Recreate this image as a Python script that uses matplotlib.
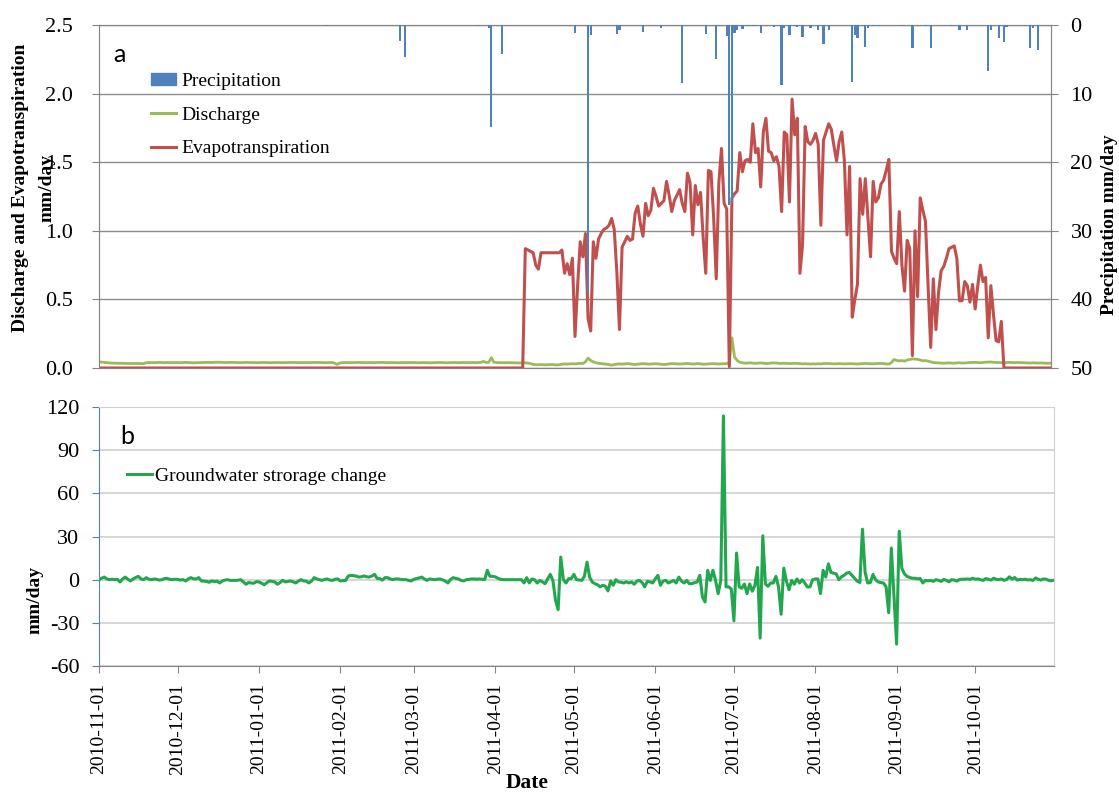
"""Daily water balance terms, Nov 2010 - Oct 2011."""

import matplotlib

matplotlib.use("Agg")

import matplotlib.dates as mdates
import matplotlib.pyplot as plt
import numpy as np
import pandas as pd
from matplotlib.lines import Line2D
from matplotlib.patches import Patch

plt.rcParams["font.family"] = ["Liberation Serif", "DejaVu Serif"]
plt.rcParams["axes.unicode_minus"] = False

BLUE = "#4f81bd"
GREEN_Q = "#9bbb59"
RED = "#c0504d"
GREEN_GW = "#22a64e"
AXIS_GREY = "#868686"

# --- daily discharge (mm/day), one list per month -------------------------
q_nov = [0.045, 0.043, 0.041, 0.039, 0.037, 0.036, 0.035, 0.035, 0.034, 0.034,
         0.034, 0.033, 0.033, 0.033, 0.033, 0.033, 0.032, 0.032, 0.038, 0.040,
         0.040, 0.039, 0.040, 0.041, 0.040, 0.039, 0.040, 0.040, 0.039, 0.040]
q_dec = [0.040, 0.039, 0.040, 0.041, 0.040, 0.039, 0.038, 0.038, 0.039, 0.040,
         0.040, 0.041, 0.041, 0.040, 0.041, 0.042, 0.042, 0.041, 0.040, 0.040,
         0.041, 0.041, 0.040, 0.040, 0.039, 0.040, 0.041, 0.040, 0.040, 0.040,
         0.039]
q_jan = [0.039, 0.040, 0.040, 0.040, 0.039, 0.039, 0.040, 0.040, 0.040, 0.039,
         0.039, 0.040, 0.040, 0.041, 0.040, 0.040, 0.039, 0.040, 0.040, 0.039,
         0.040, 0.040, 0.041, 0.040, 0.040, 0.039, 0.039, 0.040, 0.040, 0.036,
         0.026]
q_feb = [0.036, 0.039, 0.040, 0.040, 0.039, 0.040, 0.040, 0.041, 0.040, 0.040,
         0.039, 0.040, 0.040, 0.039, 0.040, 0.040, 0.041, 0.040, 0.039, 0.040,
         0.040, 0.039, 0.038, 0.039, 0.040, 0.040, 0.039, 0.040]
q_mar = [0.040, 0.039, 0.038, 0.039, 0.040, 0.039, 0.038, 0.038, 0.039, 0.040,
         0.040, 0.040, 0.039, 0.038, 0.039, 0.040, 0.040, 0.039, 0.039, 0.040,
         0.040, 0.039, 0.040, 0.040, 0.039, 0.040, 0.041, 0.048, 0.040, 0.041,
         0.075]
q_apr = [0.042, 0.040, 0.039, 0.039, 0.038, 0.039, 0.039, 0.038, 0.038, 0.037,
         0.037, 0.037, 0.038, 0.036, 0.032, 0.026, 0.024, 0.024, 0.025, 0.024,
         0.023, 0.025, 0.026, 0.024, 0.022, 0.024, 0.027, 0.030, 0.028, 0.030]
q_may = [0.031, 0.030, 0.032, 0.034, 0.033, 0.045, 0.072, 0.055, 0.045, 0.038,
         0.034, 0.032, 0.030, 0.028, 0.025, 0.020, 0.025, 0.028, 0.030, 0.028,
         0.030, 0.032, 0.030, 0.027, 0.025, 0.028, 0.030, 0.032, 0.030, 0.028,
         0.029]
q_jun = [0.030, 0.031, 0.029, 0.027, 0.025, 0.027, 0.030, 0.032, 0.031, 0.030,
         0.029, 0.030, 0.032, 0.033, 0.031, 0.029, 0.030, 0.032, 0.030, 0.028,
         0.028, 0.030, 0.031, 0.032, 0.030, 0.029, 0.030, 0.031, 0.032, 0.040]
q_jul = [0.220, 0.080, 0.055, 0.042, 0.038, 0.035, 0.036, 0.038, 0.035, 0.034,
         0.036, 0.037, 0.035, 0.033, 0.034, 0.036, 0.037, 0.036, 0.034, 0.033,
         0.035, 0.034, 0.032, 0.033, 0.034, 0.033, 0.032, 0.030, 0.031, 0.030,
         0.029]
q_aug = [0.030, 0.029, 0.031, 0.030, 0.032, 0.033, 0.032, 0.031, 0.030, 0.031,
         0.032, 0.031, 0.030, 0.031, 0.032, 0.031, 0.030, 0.029, 0.031, 0.032,
         0.033, 0.032, 0.031, 0.030, 0.032, 0.033, 0.034, 0.032, 0.030, 0.028,
         0.040]
q_sep = [0.062, 0.055, 0.052, 0.054, 0.050, 0.058, 0.062, 0.066, 0.065, 0.063,
         0.058, 0.052, 0.054, 0.050, 0.045, 0.040, 0.038, 0.037, 0.036, 0.035,
         0.036, 0.037, 0.036, 0.035, 0.037, 0.038, 0.036, 0.037, 0.038, 0.040]
q_oct = [0.040, 0.041, 0.040, 0.039, 0.040, 0.042, 0.043, 0.044, 0.042, 0.040,
         0.040, 0.039, 0.040, 0.040, 0.041, 0.040, 0.039, 0.040, 0.040, 0.039,
         0.038, 0.037, 0.036, 0.038, 0.037, 0.036, 0.037, 0.036, 0.035, 0.035,
         0.034]

# --- evapotranspiration (mm/day), growing season only, zero otherwise -----
et_start = "2011-04-13"
et_season = [
    0.87, 0.86, 0.85, 0.84, 0.75, 0.72, 0.84, 0.84,
    0.84, 0.84, 0.84, 0.84, 0.84, 0.84, 0.86, 0.69, 0.76, 0.68,
    0.80, 0.23, 0.60, 0.92, 0.81, 0.98, 0.36, 0.27, 0.92, 0.80,
    0.94, 0.98, 1.01, 1.02, 1.04, 1.09, 1.01, 0.70, 0.28, 0.88,
    0.92, 0.96, 0.93, 0.94, 1.13, 1.18, 1.05, 0.96, 1.20, 1.11,
    1.15, 1.31, 1.25, 1.18, 1.20, 1.22, 1.36, 1.26, 1.14, 1.22,
    1.26, 1.30, 1.20, 1.14, 1.42, 1.35, 0.97, 1.33, 1.19, 1.28,
    0.95, 0.69, 1.44, 1.43, 1.10, 0.65, 1.35, 1.60, 1.20, 1.16,
    0.01, 1.24, 1.27, 1.29, 1.57, 1.43, 1.51, 1.52, 1.50, 1.78,
    1.57, 1.60, 1.32, 1.72, 1.82, 1.58, 1.57, 1.51, 1.54, 1.47,
    1.14, 1.72, 1.70, 1.21, 1.96, 1.70, 1.82, 0.69, 0.90, 1.76,
    1.65, 1.63, 1.66, 1.71, 1.63, 1.04, 1.66, 1.72, 1.78, 1.74,
    1.62, 1.51, 1.65, 1.72, 1.51, 0.97, 1.47, 0.37, 0.50, 0.61,
    1.38, 1.12, 1.38, 1.10, 0.81, 1.36, 1.21, 1.24, 1.34, 1.37,
    1.44, 1.52, 0.85, 0.80, 0.76, 1.14, 0.75, 0.56, 0.93, 0.87,
    0.09, 1.00, 0.52, 1.24, 1.15, 1.07, 0.60, 0.15, 0.65, 0.28,
    0.55, 0.71, 0.74, 0.80, 0.87, 0.88, 0.89, 0.80, 0.49, 0.49,
    0.63, 0.60, 0.48, 0.61, 0.43, 0.60, 0.75, 0.63, 0.66, 0.22,
    0.60, 0.39, 0.20, 0.19, 0.34,
]

# --- rain days (mm/day) ----------------------------------------------------
rain_dates = [
    "2011-01-27", "2011-02-24", "2011-02-26", "2011-03-26", "2011-03-30",
    "2011-03-31", "2011-04-04", "2011-05-02", "2011-05-07", "2011-05-08",
    "2011-05-18", "2011-05-19", "2011-05-28", "2011-06-04", "2011-06-12",
    "2011-06-21", "2011-06-25", "2011-06-26", "2011-06-29", "2011-06-30",
    "2011-07-01", "2011-07-02", "2011-07-03", "2011-07-05", "2011-07-07",
    "2011-07-09", "2011-07-10", "2011-07-12", "2011-07-17", "2011-07-20",
    "2011-07-21", "2011-07-23", "2011-07-25", "2011-07-26", "2011-07-28",
    "2011-07-31", "2011-08-03", "2011-08-05", "2011-08-07", "2011-08-16",
    "2011-08-17", "2011-08-18", "2011-08-21", "2011-08-22", "2011-08-24",
    "2011-08-26", "2011-09-04", "2011-09-08", "2011-09-13", "2011-09-15",
    "2011-09-23", "2011-09-26", "2011-09-29", "2011-10-07", "2011-10-08",
    "2011-10-11", "2011-10-13", "2011-10-14", "2011-10-21", "2011-10-23",
    "2011-10-24", "2011-10-26",
]
rain_mm = [
    0.2, 2.4, 4.7, 0.2, 0.4,
    14.8, 4.3, 1.2, 38.9, 1.5,
    1.3, 0.7, 1.0, 0.5, 8.4,
    1.3, 5.0, 0.2, 1.6, 26.2,
    26.0, 1.2, 0.8, 0.6, 0.2,
    0.2, 0.2, 1.2, 0.3, 8.7,
    0.4, 1.5, 0.2, 0.3, 1.7,
    0.4, 0.7, 2.7, 0.8, 8.3,
    1.5, 1.9, 3.2, 0.5, 0.2,
    0.2, 0.2, 3.4, 0.2, 3.4,
    0.2, 0.8, 0.7, 6.7, 0.8,
    1.9, 2.5, 0.3, 0.2, 3.3,
    0.5, 3.6,
]

# --- groundwater storage change (mm/day), one list per month ---------------
gw_nov = [0.0, 1.0, 1.8, 0.5, 0.0, 0.3, 0.0, 0.2, -1.6, 0.5,
          1.8, 0.3, -0.9, 0.5, 1.5, 2.3, 0.5, 0.0, 1.4, 0.3,
          0.0, 0.5, 0.2, -0.3, 0.0, 0.8, 0.9, 0.2, 0.0, 0.3]
gw_dec = [0.2, -0.3, 0.1, -0.9, 0.5, 1.4, 0.6, 0.5, 1.4, -0.9,
          -1.0, -1.2, -1.8, -0.8, -1.4, -1.0, -2.3, -0.9, -0.3, 0.0,
          -0.5, -0.5, -0.5, -0.4, 0.0, -1.5, -3.2, -2.0, -2.3, -2.5,
          -1.4]
gw_jan = [-1.6, -2.5, -3.5, -2.0, -0.9, -1.2, -1.6, -3.2, -2.0, -0.5,
          -1.6, -1.2, -0.9, -1.5, -2.3, -1.0, 0.0, -0.9, -1.0, -2.3,
          -1.0, 1.4, 0.5, 0.0, -0.5, 0.2, 0.5, -0.3, -0.5, 0.3,
          0.5]
gw_feb = [-0.9, -0.7, -0.5, 2.5, 3.0, 2.8, 2.5, 1.8, 2.0, 2.6,
          2.0, 1.8, 2.5, 3.7, 0.9, 0.7, -0.3, 1.4, 1.4, 0.5,
          0.0, 0.5, 0.5, 0.2, 0.0, 0.0, -0.5, -0.9]
gw_mar = [0.3, 0.7, 1.2, 1.8, 0.5, -0.5, 0.5, 0.2, 0.0, 0.3,
          0.5, -0.2, -1.0, -2.3, 0.2, 1.4, 0.9, 0.5, -0.5, -0.9,
          0.0, 0.2, 0.5, 0.5, 0.3, 0.5, 0.3, 0.0, 6.5, 2.3,
          2.3]
gw_apr = [2.0, 1.0, 0.3, 0.0, 0.0, 0.0, 0.0, 0.0, 0.0, 0.0,
          0.0, -2.3, 1.4, -2.3, 0.5, 0.0, -2.3, -0.5, -1.5, -2.8,
          0.5, 3.7, -0.5, -14.3, -20.8, 15.7, 0.0, -2.3, 0.7, 0.7]
gw_may = [3.7, 0.0, -0.2, -0.5, 2.3, 12.2, 1.8, -1.6, -2.8, -3.5,
          -5.0, -3.9, -4.5, -7.8, -0.9, -3.9, 0.0, -1.6, -1.8, -2.3,
          -1.5, -2.3, -1.6, -3.2, -1.0, -0.5, -2.0, -5.0, -1.2, -1.5,
          -2.3]
gw_jun = [0.5, 3.0, -3.9, -1.0, -0.5, -2.3, -1.5, -0.5, -2.3, 1.8,
          -1.0, -2.3, -0.5, -2.8, -2.8, -2.0, -1.6, 3.0, -12.0, -15.5,
          6.5, -0.5, 6.5, -0.5, -9.7, -0.5, 113.8, -5.0, -5.0, -6.5]
gw_jul = [-28.6, 18.5, -5.0, -6.0, -3.0, -9.7, -3.0, -8.0, -4.0, 8.5,
          -40.6, 30.5, -3.0, -4.6, -2.3, -2.3, 2.3, -5.0, -24.0, 8.0,
          -1.0, -7.0, -0.5, -3.2, 0.5, -2.3, 0.0, -2.3, -5.0, -5.0,
          0.0]
gw_aug = [0.5, 0.5, -9.7, 6.5, 1.8, 11.0, 5.0, 4.5, 4.0, 0.0,
          2.0, 3.0, 4.6, 5.0, 3.0, 1.0, -1.0, -2.0, 35.1, 5.0,
          -2.3, -2.0, 3.7, 0.0, -1.6, -2.0, -2.3, -5.0, -23.0, 22.0,
          -11.0]
gw_sep = [-44.8, 33.7, 8.0, 4.0, 2.3, 1.5, 1.0, 1.0, 0.5, 0.8,
          -2.3, -0.5, -0.8, -0.5, -1.2, 0.0, -0.5, -1.2, 0.2, -0.5,
          -1.5, 0.0, -0.3, -1.0, 0.2, 0.3, 0.3, 0.5, 0.2, 1.0]
gw_oct = [0.3, 0.5, 0.0, -0.5, 0.8, 0.2, -0.3, 1.0, 0.2, 0.0,
          0.5, -0.5, 0.2, 2.0, 0.3, 1.5, -0.3, 0.2, 0.0, 0.3,
          -0.2, 0.0, -0.5, 1.2, 0.2, -0.3, 0.5, 0.3, -0.5, -0.8,
          -0.3]

days = pd.date_range("2010-11-01", "2011-10-31", freq="D")

discharge = np.concatenate([q_nov, q_dec, q_jan, q_feb, q_mar, q_apr,
                            q_may, q_jun, q_jul, q_aug, q_sep, q_oct])
storage = np.concatenate([gw_nov, gw_dec, gw_jan, gw_feb, gw_mar, gw_apr,
                          gw_may, gw_jun, gw_jul, gw_aug, gw_sep, gw_oct])
et = np.zeros(len(days))
i0 = days.get_loc(pd.Timestamp(et_start))
et[i0:i0 + len(et_season)] = et_season
rain_days = pd.to_datetime(rain_dates)

W, H = 1119, 792


def fx(px):
    return px / W


def fy(py):
    return 1 - py / H


fig = plt.figure(figsize=(W / 100, H / 100), dpi=100)
ax = fig.add_axes([fx(99), fy(368), fx(1051 - 99), (368 - 25) / H])
axb = fig.add_axes([fx(99), fy(666), fx(1054 - 99), (666 - 407) / H])

# ---- panel a: discharge, ET and inverted precipitation ---------------------
ax.plot(days, discharge, color=GREEN_Q, lw=2.0, zorder=3)
ax.plot(days, et, color=RED, lw=2.2, zorder=4)
ax.set_xlim(days[0], days[-1])
ax.set_ylim(0, 2.5)
ax.set_yticks(np.arange(0, 2.51, 0.5))
ax.yaxis.set_major_formatter(plt.FormatStrFormatter("%.1f"))
ax.grid(axis="y", color="#8c8c8c", lw=1.0)
ax.set_axisbelow(True)
ax.tick_params(axis="y", direction="out", length=5, color=AXIS_GREY,
               pad=14, labelsize=16)
ax.tick_params(axis="x", length=0, labelbottom=False)
for s in ax.spines.values():
    s.set_color(AXIS_GREY)

ax2 = ax.twinx()
ax2.bar(rain_days, rain_mm, width=0.9, color=BLUE, linewidth=0, zorder=5)
ax2.set_ylim(50, 0)
ax2.set_yticks(np.arange(0, 51, 10))
ax2.tick_params(axis="y", direction="out", length=5, color=AXIS_GREY,
                pad=9, labelsize=16)
for s in ax2.spines.values():
    s.set_color(AXIS_GREY)
ax2.set_xlim(days[0], days[-1])

handles = [
    Patch(color=BLUE, label="Precipitation"),
    Line2D([], [], color=GREEN_Q, lw=2.2, label="Discharge"),
    Line2D([], [], color=RED, lw=2.2, label="Evapotranspiration"),
]
ax2.legend(handles=handles, loc="upper left", bbox_to_anchor=(fx(151), fy(73)),
           bbox_transform=fig.transFigure, frameon=False, fontsize=14,
           borderpad=0, borderaxespad=0, handlelength=1.3, handleheight=0.55,
           handletextpad=0.25, labelspacing=0.85)

fig.text(fx(119), fy(55), "a", family=["Lato", "DejaVu Sans"], fontsize=18,
         ha="center", va="center")
fig.text(fx(21), fy(188), "Discharge and Evapotranspiration", rotation=90,
         fontsize=14, fontweight="bold", ha="center", va="center")
fig.text(fx(47), fy(188), "mm/day", rotation=90,
         fontsize=14, fontweight="bold", ha="center", va="center")
fig.text(fx(1109), fy(225), "Precipitation mm/day", rotation=90,
         fontsize=14, fontweight="bold", ha="center", va="center")

# ---- panel b: groundwater storage change -----------------------------------
axb.plot(days, storage, color=GREEN_GW, lw=2.2, zorder=3,
         label="Groundwater strorage change")
axb.set_xlim(days[0], days[-1])
axb.set_ylim(-60, 120)
axb.set_yticks(np.arange(-60, 121, 30))
axb.grid(axis="y", color="#d0d0d0", lw=1.2)
axb.set_axisbelow(True)
axb.xaxis.set_major_locator(mdates.MonthLocator())
axb.xaxis.set_major_formatter(mdates.DateFormatter("%Y-%m-%d"))
axb.tick_params(axis="y", direction="out", length=5, color=BLUE,
                pad=9, labelsize=16)
axb.tick_params(axis="x", direction="out", length=5, color=AXIS_GREY,
                pad=7, labelsize=14, labelrotation=90)
axb.spines["left"].set_color(BLUE)
axb.spines["bottom"].set_color(AXIS_GREY)
axb.spines["top"].set_color("#d0d0d0")
axb.spines["right"].set_color("#d0d0d0")
axb.legend(loc="upper left", bbox_to_anchor=(fx(127), fy(467)),
           bbox_transform=fig.transFigure, frameon=False, fontsize=14,
           borderpad=0, borderaxespad=0, handlelength=1.3,
           handletextpad=0.15)

fig.text(fx(127), fy(436), "b", family=["Lato", "DejaVu Sans"], fontsize=18,
         ha="center", va="center")
fig.text(fx(35), fy(600), "mm/day", rotation=90,
         fontsize=14, fontweight="bold", ha="center", va="center")
fig.text(fx(527), fy(783), "Date", fontsize=15.5, fontweight="bold",
         ha="center", va="center")

fig.savefig("out.png", dpi=100)
